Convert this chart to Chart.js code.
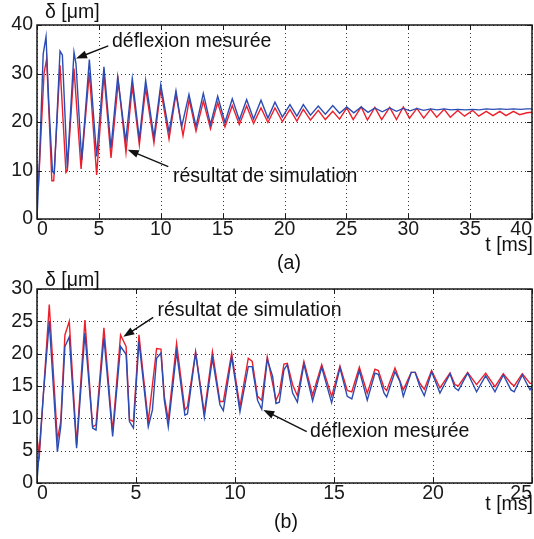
<!DOCTYPE html>
<html>
<head>
<meta charset="utf-8">
<script src="https://cdn.jsdelivr.net/npm/chart.js@4.4.0/dist/chart.umd.min.js"></script>
<style>
  html, body { margin: 0; padding: 0; background: #fff; }
  #wrap { position: relative; width: 534px; height: 539px; }
  #ca { position: absolute; left: 0; top: 0; }
  #cb { position: absolute; left: 0; top: 270px; }
</style>
</head>
<body>
<div id="wrap">
  <canvas id="ca" width="534" height="276"></canvas>
  <canvas id="cb" width="534" height="269"></canvas>
</div>
<script>
//Datos (a) - t en ms, deflexion en um
const tMesA = [0, 0.2, 0.5, 0.73, 0.95, 1.25, 1.4, 1.86, 2.05, 2.45, 2.99, 3.15, 3.61, 4.23, 4.82, 5.41, 5.98, 6.52, 7.17, 7.7,
  8.27, 8.78, 9.45, 10.0, 10.67, 11.23, 11.69, 12.28, 12.85, 13.44, 14.02, 14.6, 15.19, 15.78, 16.35, 16.94, 17.5, 18.1, 18.66, 19.23,
  19.83, 20.44, 21.0, 21.52, 22.1, 22.73, 23.3, 23.9, 24.45, 25.03, 25.6, 26.2, 26.75, 27.3, 27.9, 28.5, 29.05, 29.6, 30.15, 30.7,
  31.25, 31.8, 32.35, 32.9, 33.45, 34.0, 34.6, 35.2, 35.75, 36.3, 36.85, 37.4, 37.95, 38.5, 39.05, 39.6, 40.0];
const yMesA = [0, 12, 34, 37.6, 24, 9.8, 9.4, 34.6, 33.8, 10.5, 34.4, 32, 12.2, 32.9, 12.9, 31.4, 14.6, 29.3, 16.0, 29.0,
  16.5, 28.6, 16.9, 27.7, 17.9, 26.4, 19.0, 25.7, 19.1, 25.9, 19.5, 25.3, 19.9, 24.8, 20.4, 24.6, 20.6, 24.5, 20.8, 24.1,
  21.0, 23.6, 21.2, 23.6, 21.4, 23.3, 21.6, 23.4, 21.8, 23.1, 21.9, 23.1, 22.0, 22.9, 22.1, 22.9, 22.2, 22.8, 22.3, 22.8,
  22.4, 22.7, 22.5, 22.7, 22.5, 22.6, 22.5, 22.6, 22.5, 22.7, 22.6, 22.7, 22.6, 22.7, 22.6, 22.7, 22.7];
const tSimA = [0, 0.1, 0.57, 0.78, 1.2, 1.35, 1.86, 2.34, 2.45, 2.99, 3.56, 4.23, 4.82, 5.41, 5.98, 6.57, 7.19, 7.7, 8.27, 8.78,
  9.45, 10.0, 10.67, 11.23, 11.8, 12.3, 12.85, 13.44, 14.02, 14.6, 15.19, 15.78, 16.35, 16.94, 17.5, 18.1, 18.66, 19.23, 19.83, 20.44,
  21.0, 21.52, 22.1, 22.73, 23.3, 23.9, 24.45, 25.03, 25.55, 26.2, 26.7, 27.3, 27.85, 28.5, 29.05, 29.6, 30.1, 30.7, 31.25, 31.8,
  32.3, 32.9, 33.4, 34.0, 34.55, 35.2, 35.7, 36.3, 36.85, 37.4, 37.9, 38.5, 39.0, 39.6, 40.0];
const ySimA = [11.4, 6.0, 30.1, 33.0, 7.9, 7.9, 31.7, 9.6, 10.0, 31.0, 10.3, 30.2, 9.1, 29.8, 12.6, 28.4, 13.7, 27.5, 15.3, 27.0,
  15.7, 26.7, 16.5, 25.8, 17.2, 24.6, 18.1, 24.3, 18.6, 24.0, 19.0, 23.4, 19.5, 23.3, 19.7, 22.9, 19.9, 22.9, 20.1, 22.6,
  20.2, 22.6, 20.4, 22.4, 20.5, 22.2, 20.6, 22.9, 20.5, 23.1, 20.4, 23.0, 20.5, 23.0, 20.5, 23.1, 20.8, 22.8, 20.8, 22.6,
  21.0, 22.6, 21.0, 22.4, 21.2, 22.4, 21.2, 22.2, 21.3, 22.2, 21.3, 22.2, 21.5, 21.9, 22.0];

//Datos (b)
const tMesB = [0, 0.32, 0.62, 1.03, 1.2, 1.41, 1.63, 2.0, 2.42, 2.81, 2.98, 3.38, 3.82, 4.22, 4.5, 4.67, 4.87, 5.15, 5.62, 5.83,
  6.04, 6.26, 6.43, 6.63, 7.05, 7.47, 7.6, 8.01, 8.45, 8.86, 9.24, 9.41, 9.83, 10.25, 10.67, 10.87, 11.14, 11.35, 11.63, 11.9,
  12.07, 12.24, 12.47, 12.64, 12.91, 13.15, 13.48, 13.92, 14.38, 14.88, 15.3, 15.67, 15.9, 16.28, 16.68, 17.07, 17.24, 17.53, 17.66, 18.08,
  18.33, 18.5, 18.9, 19.1, 19.34, 19.56, 19.93, 20.35, 20.86, 21.11, 21.28, 21.75, 22.2, 22.66, 23.13, 23.55, 23.94, 24.1, 24.51, 24.9, 25.05];
const yMesB = [0.2, 13.6, 25.0, 4.8, 8.7, 21.1, 22.6, 5.4, 23.2, 8.5, 8.2, 22.5, 7.2, 21.1, 19.9, 9.5, 8.5, 21.9, 8.7, 11.3,
  19.3, 20.1, 12.8, 8.7, 20.3, 10.5, 10.7, 20.1, 10.2, 19.3, 12.1, 11.2, 19.5, 11.0, 18.0, 18.0, 12.8, 11.4, 19.1, 16.5,
  12.3, 12.5, 17.5, 18.3, 13.9, 12.5, 18.4, 12.7, 17.9, 12.4, 17.8, 13.4, 13.0, 17.4, 12.8, 17.0, 16.8, 13.9, 13.3, 17.2,
  15.7, 13.4, 17.1, 17.1, 14.9, 13.5, 17.2, 13.9, 16.9, 14.7, 14.3, 17.0, 14.1, 16.6, 14.1, 16.7, 14.4, 14.1, 16.7, 14.4, 15.2];
const tSimB = [0, 0.12, 0.62, 1.03, 1.2, 1.41, 1.63, 2.0, 2.42, 2.81, 2.98, 3.38, 3.82, 4.22, 4.5, 4.67, 4.87, 5.15, 5.62, 6.04,
  6.26, 6.43, 6.63, 7.05, 7.47, 7.6, 8.01, 8.45, 8.86, 9.24, 9.41, 9.83, 10.25, 10.67, 10.87, 11.14, 11.35, 11.63, 12.07, 12.24,
  12.47, 12.64, 12.91, 13.15, 13.48, 13.92, 14.38, 14.88, 15.3, 15.67, 15.9, 16.28, 16.68, 17.07, 17.24, 17.53, 17.66, 18.08, 18.5, 18.9,
  19.1, 19.34, 19.56, 19.93, 20.35, 20.86, 21.11, 21.28, 21.75, 22.2, 22.66, 23.13, 23.55, 23.94, 24.1, 24.51, 24.9, 25.05];
const ySimB = [6.9, 4.3, 27.6, 6.7, 9.5, 22.9, 25.0, 5.9, 25.2, 8.7, 9.0, 24.0, 7.9, 22.9, 21.1, 9.8, 9.5, 22.9, 9.5, 20.8,
  20.7, 13.4, 9.8, 21.6, 11.3, 11.8, 20.3, 10.8, 20.3, 12.6, 12.6, 20.1, 11.8, 19.3, 18.8, 13.4, 12.8, 19.5, 12.8, 13.9,
  18.4, 18.5, 15.2, 13.5, 18.8, 13.6, 18.3, 13.4, 18.1, 14.3, 14.1, 17.9, 13.9, 17.6, 17.4, 14.7, 14.3, 17.8, 14.4, 17.1,
  17.1, 15.4, 14.5, 17.4, 14.7, 17.0, 15.2, 15.0, 17.1, 15.2, 17.0, 14.9, 16.9, 15.4, 15.0, 16.9, 15.4, 15.4];

//Ticks de los ejes
const xTicksA = [0, 5, 10, 15, 20, 25, 30, 35, 40];
const yTicksA = [0, 10, 20, 30, 40];
const xTicksB = [0, 5, 10, 15, 20, 25];
const yTicksB = [0, 5, 10, 15, 20, 25, 30];

//Anotaciones con flecha (coordenadas en unidades de datos)
const notesA = [
  { text: 'déflexion mesurée', at: [6.06, 35.4], from: [5.76, 35.7], to: [3.15, 33.1] },
  { text: 'résultat de simulation', at: [10.99, 7.66], from: [10.61, 10.8], to: [7.33, 14.3] }
];
const notesB = [
  { text: 'résultat de simulation', at: [6.08, 25.8], from: [5.87, 25.6], to: [4.36, 22.6] },
  { text: 'déflexion mesurée', at: [13.79, 7.17], from: [13.62, 7.94], to: [11.43, 11.3] }
];

const BLUE = '#2b4cb3';
const RED = '#ec1f2b';
const FAMILY = '"Liberation Sans", Arial, Helvetica, sans-serif';
const FONT = '19.5px ' + FAMILY;

const pts = (ts, ys) => ts.map((t, i) => ({ x: t, y: ys[i] }));

function arrow(ctx, x1, y1, x2, y2) {
  const ang = Math.atan2(y2 - y1, x2 - x1), L = 11, W = 4;
  const c = Math.cos(ang), s = Math.sin(ang);
  ctx.beginPath();
  ctx.moveTo(x1, y1);
  ctx.lineTo(x2 - L * 0.8 * c, y2 - L * 0.8 * s);
  ctx.stroke();
  ctx.beginPath();
  ctx.moveTo(x2, y2);
  ctx.lineTo(x2 - L * c + W * s, y2 - L * s - W * c);
  ctx.lineTo(x2 - L * c - W * s, y2 - L * s + W * c);
  ctx.closePath();
  ctx.fill();
}

//Plugin: rejilla punteada, caja, ticks interiores, textos y flechas
function makeDecor(labels, notes) {
  return {
    id: 'decor',
    beforeDatasetsDraw(chart) {
      const { ctx, chartArea: a, scales: { x, y } } = chart;
      ctx.save();
      ctx.strokeStyle = '#333';
      ctx.lineWidth = 1;
      ctx.setLineDash([1, 3]);
      ctx.beginPath();
      x.ticks.forEach(t => {
        const p = Math.round(x.getPixelForValue(t.value)) + 0.5;
        ctx.moveTo(p, a.top); ctx.lineTo(p, a.bottom);
      });
      y.ticks.forEach(t => {
        const p = Math.round(y.getPixelForValue(t.value)) + 0.5;
        ctx.moveTo(a.left, p); ctx.lineTo(a.right, p);
      });
      ctx.stroke();
      ctx.restore();
    },
    afterDraw(chart) {
      const { ctx, chartArea: a, scales: { x, y } } = chart;
      ctx.save();
      ctx.strokeStyle = '#1a1a1a';
      ctx.lineWidth = 1;
      ctx.beginPath();
      x.ticks.forEach(t => {
        const p = Math.round(x.getPixelForValue(t.value)) + 0.5;
        ctx.moveTo(p, a.bottom); ctx.lineTo(p, a.bottom - 5);
        ctx.moveTo(p, a.top); ctx.lineTo(p, a.top + 5);
      });
      y.ticks.forEach(t => {
        const p = Math.round(y.getPixelForValue(t.value)) + 0.5;
        ctx.moveTo(a.left, p); ctx.lineTo(a.left + 5, p);
        ctx.moveTo(a.right, p); ctx.lineTo(a.right - 5, p);
      });
      ctx.stroke();
      ctx.lineWidth = 1.5;
      ctx.strokeRect(a.left, a.top, a.right - a.left, a.bottom - a.top);

      ctx.fillStyle = '#111';
      ctx.font = FONT;
      ctx.textBaseline = 'alphabetic';
      labels.forEach(l => {
        ctx.textAlign = l.align || 'left';
        ctx.fillText(l.text, l.x, l.y);
      });
      ctx.textAlign = 'left';
      ctx.strokeStyle = '#111';
      ctx.lineWidth = 1.4;
      notes.forEach(n => {
        ctx.fillText(n.text, x.getPixelForValue(n.at[0]), y.getPixelForValue(n.at[1]));
        arrow(ctx, x.getPixelForValue(n.from[0]), y.getPixelForValue(n.from[1]),
          x.getPixelForValue(n.to[0]), y.getPixelForValue(n.to[1]));
      });
      ctx.restore();
    }
  };
}

function makeChart(id, c) {
  const axisCommon = {
    type: 'linear',
    grid: { display: false, drawTicks: false },
    border: { display: false }
  };
  return new Chart(document.getElementById(id), {
    type: 'line',
    data: {
      datasets: [
        { label: 'déflexion mesurée', data: pts(c.tMes, c.yMes), borderColor: BLUE, backgroundColor: BLUE },
        { label: 'résultat de simulation', data: pts(c.tSim, c.ySim), borderColor: RED, backgroundColor: RED }
      ]
    },
    options: {
      responsive: false,
      animation: false,
      events: [],
      layout: { padding: { top: c.top, right: 2, left: 0, bottom: 0 } },
      plugins: { legend: { display: false }, tooltip: { enabled: false } },
      elements: { point: { radius: 0 }, line: { tension: 0, borderWidth: 1.4 } },
      scales: {
        x: Object.assign({}, axisCommon, {
          min: 0, max: c.xTicks[c.xTicks.length - 1],
          afterBuildTicks: s => { s.ticks = c.xTicks.map(v => ({ value: v })); },
          afterFit: s => { s.height = c.xH; s.paddingLeft = 0; s.paddingRight = 0; },
          ticks: { padding: 0, align: 'inner', maxRotation: 0, autoSkip: false, color: '#1a1a1a', font: { family: FAMILY, size: 19.5, lineHeight: 1.1 } }
        }),
        y: Object.assign({}, axisCommon, {
          min: 0, max: c.yTicks[c.yTicks.length - 1],
          afterBuildTicks: s => { s.ticks = c.yTicks.map(v => ({ value: v })); },
          afterFit: s => { s.width = 37; s.paddingTop = 0; s.paddingBottom = 0; },
          ticks: { padding: 4, autoSkip: false, color: '#1a1a1a', font: { family: FAMILY, size: 19.5 } }
        })
      }
    },
    plugins: [makeDecor(c.labels, c.notes)]
  });
}

makeChart('ca', {
  tMes: tMesA, yMes: yMesA, tSim: tSimA, ySim: ySimA,
  xTicks: xTicksA, yTicks: yTicksA, top: 25, xH: 57,
  notes: notesA,
  labels: [
    { text: 'δ [μm]', x: 45, y: 18 },
    { text: 't [ms]', x: 533, y: 251, align: 'right' },
    { text: '(a)', x: 289, y: 269, align: 'center' }
  ]
});

makeChart('cb', {
  tMes: tMesB, yMes: yMesB, tSim: tSimB, ySim: ySimB,
  xTicks: xTicksB, yTicks: yTicksB, top: 19, xH: 56,
  notes: notesB,
  labels: [
    { text: 'δ [μm]', x: 45, y: 16 },
    { text: 't [ms]', x: 533, y: 240, align: 'right' },
    { text: '(b)', x: 286, y: 258, align: 'center' }
  ]
});
</script>
</body>
</html>
